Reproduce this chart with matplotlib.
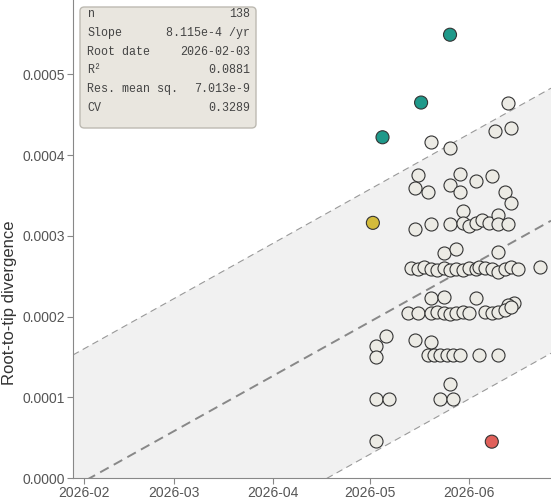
import numpy as np
import matplotlib

matplotlib.use("Agg")
import matplotlib.pyplot as plt
import matplotlib.dates as mdates
from matplotlib.patches import FancyBboxPatch
from datetime import datetime

# sample dates / root-to-tip values
dates = [
    "2026-06-13", "2026-06-09", "2026-06-14", "2026-05-20", "2026-05-26",
    "2026-05-16", "2026-05-15", "2026-05-19", "2026-05-29", "2026-05-26",
    "2026-05-29", "2026-06-03", "2026-06-08", "2026-06-12", "2026-06-14",
    "2026-05-30", "2026-05-15", "2026-05-20", "2026-05-26",
    "2026-05-30", "2026-06-01", "2026-06-03", "2026-06-05", "2026-06-07",
    "2026-06-10", "2026-06-10", "2026-06-13",
    "2026-05-24", "2026-05-28", "2026-06-10",
    "2026-05-14", "2026-05-16", "2026-05-18", "2026-05-20", "2026-05-22",
    "2026-05-24", "2026-05-26", "2026-05-28", "2026-05-30", "2026-06-01",
    "2026-06-03", "2026-06-04", "2026-06-06", "2026-06-08", "2026-06-10",
    "2026-06-12", "2026-06-14", "2026-06-16", "2026-06-23",
    "2026-05-20", "2026-05-24", "2026-06-03", "2026-06-15", "2026-06-13",
    "2026-05-13", "2026-05-16", "2026-05-20", "2026-05-22", "2026-05-24",
    "2026-05-26", "2026-05-28", "2026-05-30", "2026-06-01",
    "2026-06-06", "2026-06-08", "2026-06-10", "2026-06-12", "2026-06-14",
    "2026-05-06", "2026-05-03", "2026-05-03", "2026-05-15", "2026-05-20",
    "2026-05-19", "2026-05-21", "2026-05-23", "2026-05-25", "2026-05-27",
    "2026-05-29", "2026-06-04", "2026-06-10",
    "2026-05-26", "2026-05-23", "2026-05-27", "2026-05-03", "2026-05-07",
    "2026-05-03",
]
values = [
    4.65e-4, 4.30e-4, 4.33e-4, 4.16e-4, 4.09e-4,
    3.75e-4, 3.59e-4, 3.54e-4, 3.77e-4, 3.63e-4,
    3.54e-4, 3.68e-4, 3.74e-4, 3.54e-4, 3.41e-4,
    3.31e-4, 3.08e-4, 3.14e-4, 3.14e-4,
    3.16e-4, 3.12e-4, 3.16e-4, 3.20e-4, 3.16e-4,
    3.26e-4, 3.15e-4, 3.15e-4,
    2.79e-4, 2.83e-4, 2.80e-4,
    2.60e-4, 2.59e-4, 2.61e-4, 2.59e-4, 2.58e-4,
    2.60e-4, 2.58e-4, 2.59e-4, 2.57e-4, 2.60e-4,
    2.59e-4, 2.61e-4, 2.60e-4, 2.59e-4, 2.55e-4,
    2.59e-4, 2.61e-4, 2.59e-4, 2.61e-4,
    2.23e-4, 2.24e-4, 2.23e-4, 2.17e-4, 2.14e-4,
    2.04e-4, 2.04e-4, 2.04e-4, 2.05e-4, 2.04e-4,
    2.03e-4, 2.04e-4, 2.05e-4, 2.04e-4,
    2.05e-4, 2.04e-4, 2.06e-4, 2.08e-4, 2.12e-4,
    1.76e-4, 1.63e-4, 1.50e-4, 1.71e-4, 1.69e-4,
    1.52e-4, 1.52e-4, 1.52e-4, 1.52e-4, 1.52e-4,
    1.52e-4, 1.52e-4, 1.52e-4,
    1.16e-4, 0.98e-4, 0.98e-4, 0.98e-4, 0.98e-4,
    0.46e-4,
]

# highlighted tips
hl_dates = ["2026-05-26", "2026-05-17", "2026-05-05", "2026-05-02", "2026-06-08"]
hl_values = [5.49e-4, 4.65e-4, 4.22e-4, 3.16e-4, 0.45e-4]
hl_colors = ["#1f998a", "#1f998a", "#1f998a", "#d3bb3b", "#e0605a"]

# regression stats
stat_labels = ["n", "Slope", "Root date", "R\u00b2", "Res. mean sq.", "CV"]
stat_values = ["138", "8.115e-4 /yr", "2026-02-03", "0.0881", "7.013e-9", "0.3289"]
slope = 8.115e-4
root_date = "2026-02-03"
res_ms = 7.013e-9

W, H = 551, 499
fig = plt.figure(figsize=(W / 100, H / 100), dpi=100)
ax = fig.add_axes([73 / W, 21 / H, 1 - 73 / W, 1 - 21 / H])

x0 = datetime(2026, 1, 28, 17)
x1 = datetime(2026, 6, 26, 10)

# regression line and prediction band
xs = np.array([mdates.date2num(x0), mdates.date2num(x1)])
root = mdates.date2num(datetime.strptime(root_date, "%Y-%m-%d"))
ys = (xs - root) * slope / 365.25
half = 1.96 * np.sqrt(res_ms)
ax.fill_between(xs, ys - half, ys + half, color="#f1f1f1", lw=0, zorder=0)
ax.plot(xs, ys, ls=(0, (5, 3)), color="#888888", lw=1.4, zorder=1)
ax.plot(xs, ys + half, ls=(0, (6, 4)), color="#999999", lw=0.8, zorder=1)
ax.plot(xs, ys - half, ls=(0, (6, 4)), color="#999999", lw=0.8, zorder=1)

d = [datetime.strptime(s, "%Y-%m-%d") for s in dates]
ax.scatter(d, values, s=88, c="#ecebe5", edgecolors="#333333", linewidths=0.8, zorder=3)
hd = [datetime.strptime(s, "%Y-%m-%d") for s in hl_dates]
ax.scatter(hd, hl_values, s=88, c=hl_colors, edgecolors="#333333", linewidths=0.8, zorder=4)

ax.set_xlim(x0, x1)
ax.set_ylim(0, 0.000592)
ax.set_yticks([0, 0.0001, 0.0002, 0.0003, 0.0004, 0.0005])
ax.yaxis.set_major_formatter(matplotlib.ticker.FormatStrFormatter("%.4f"))
ax.xaxis.set_major_locator(mdates.MonthLocator())
ax.xaxis.set_major_formatter(mdates.DateFormatter("%Y-%m"))

for side in ["top", "right"]:
    ax.spines[side].set_visible(False)
for side in ["left", "bottom"]:
    ax.spines[side].set_color("#888888")
ax.tick_params(colors="#888888", labelcolor="#555555", labelsize=10, length=4, pad=2)
for lbl in ax.get_xticklabels() + ax.get_yticklabels():
    lbl.set_family("Liberation Sans")
ax.set_ylabel("Root-to-tip divergence", fontsize=12, color="#333333",
              family="Liberation Sans")
ax.yaxis.set_label_coords(-0.118, 0.366)

# stats box
box = FancyBboxPatch((80 / W, 1 - 128 / H), 176 / W, 121 / H,
                     boxstyle="round,pad=0,rounding_size=0.008",
                     transform=fig.transFigure, facecolor="#e9e6df",
                     edgecolor="#bdbab2", lw=1, zorder=5)
fig.patches.append(box)
for i, (lab, val) in enumerate(zip(stat_labels, stat_values)):
    yy = 1 - (14 + i * 18.8) / H
    fig.text(87 / W, yy, lab, family="Liberation Mono", fontsize=8.4,
             color="#444444", va="center", ha="left", zorder=6)
    fig.text(250 / W, yy, val, family="Liberation Mono", fontsize=8.4,
             color="#444444", va="center", ha="right", zorder=6)

fig.savefig("out.png", dpi=100)
